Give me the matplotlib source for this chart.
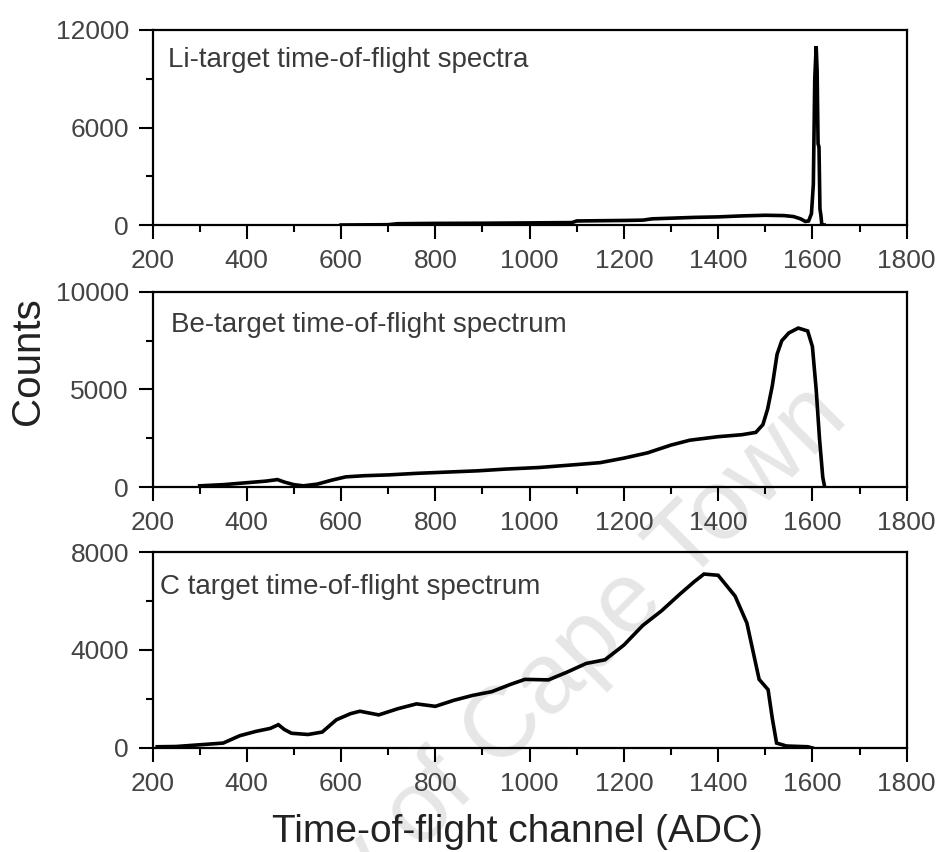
import numpy as np
import matplotlib
matplotlib.use('Agg')
import matplotlib.pyplot as plt
from matplotlib.ticker import MultipleLocator


# Li target spectrum (channel, counts)
li_x = [600, 700, 720, 800, 900, 1000, 1090, 1100, 1200, 1240, 1260, 1300, 1350,
        1400, 1450, 1500, 1540, 1560, 1575, 1585, 1592, 1598, 1602, 1605, 1608,
        1610, 1612, 1614, 1616, 1618, 1620, 1625]
li_y = [0, 20, 80, 100, 110, 130, 150, 250, 280, 300, 380, 420, 470,
        500, 560, 600, 580, 520, 380, 220, 250, 700, 2500, 9000, 11000,
        9500, 5000, 4800, 1000, 600, 0, 0]

# Be target spectrum
be_x = [300, 350, 400, 440, 465, 480, 500, 520, 550, 580, 610, 650, 700, 760,
        820, 890, 950, 1020, 1100, 1150, 1200, 1250, 1300, 1340, 1400, 1450,
        1480, 1495, 1505, 1515, 1525, 1535, 1550, 1570, 1590, 1600, 1608, 1615,
        1622, 1626]
be_y = [60, 120, 220, 300, 380, 250, 120, 60, 150, 350, 520, 580, 620, 700,
        760, 830, 920, 1000, 1150, 1250, 1480, 1750, 2150, 2400, 2580, 2680,
        2800, 3200, 4000, 5200, 6800, 7500, 7900, 8150, 8000, 7200, 5000, 2500,
        500, 0]

# C target spectrum
c_x = [210, 250, 300, 350, 385, 420, 450, 467, 480, 495, 530, 560, 590, 620,
       640, 680, 720, 760, 800, 840, 880, 920, 960, 990, 1040, 1080, 1120,
       1160, 1200, 1240, 1280, 1320, 1350, 1370, 1400, 1436, 1461, 1487, 1506,
       1515, 1524, 1545, 1590, 1600]
c_y = [50, 60, 130, 200, 500, 680, 800, 950, 750, 600, 550, 650, 1150, 1400,
       1500, 1350, 1600, 1800, 1700, 1950, 2150, 2300, 2600, 2800, 2780, 3100,
       3450, 3600, 4200, 5000, 5600, 6300, 6800, 7100, 7050, 6200, 5100, 2800,
       2380, 1200, 200, 80, 50, 0]

labels = ['Li-target time-of-flight spectra',
          'Be-target time-of-flight spectrum',
          'C target time-of-flight spectrum']
ymax = [12000, 10000, 8000]

plt.rcParams['font.family'] = ['Liberation Sans', 'DejaVu Sans']

fig = plt.figure(figsize=(9.38, 8.52), dpi=100)

# watermark behind everything
fig.text(850 / 938, 1 - 420 / 852, 'University of Cape Town', fontsize=72,
         color='#e6e6e6', rotation=45, rotation_mode='anchor',
         ha='right', va='baseline', zorder=-1)

boxes = [[0.1626, 0.7359, 0.804, 0.2289],
         [0.1626, 0.4284, 0.804, 0.2289],
         [0.1626, 0.1221, 0.804, 0.2300]]
text_y = [0.915, 0.895, 0.89]
text_x = [0.02, 0.024, 0.01]
series = [(li_x, li_y), (be_x, be_y), (c_x, c_y)]

for i in range(3):
    ax = fig.add_axes(boxes[i])
    ax.set_facecolor('none')
    xs, ys = series[i]
    ax.plot(xs, ys, color='black', lw=2.6, solid_joinstyle='miter')

    ax.set_xlim(200, 1800)
    ax.set_ylim(0, ymax[i])
    ax.set_xticks(np.arange(200, 1801, 200))
    ax.xaxis.set_minor_locator(MultipleLocator(100))
    ax.set_yticks([0, ymax[i] / 2, ymax[i]])
    ax.set_yticklabels(['0', str(ymax[i] // 2), str(ymax[i])])
    ax.yaxis.set_minor_locator(MultipleLocator(ymax[i] / 4))

    ax.tick_params(which='major', direction='out', length=10, width=1.5,
                   pad=7, labelsize=19, labelcolor='#444444')
    ax.tick_params(which='minor', direction='out', length=5, width=1.5)
    ax.tick_params(top=False, right=False, which='both')
    for s in ax.spines.values():
        s.set_linewidth(1.6)

    ax.text(text_x[i], text_y[i], labels[i], transform=ax.transAxes,
            fontsize=20, color='#3a3a3a', ha='left', va='top')

fig.text(28 / 938, 1 - 361 / 852, 'Counts', fontsize=29, rotation=90,
         ha='center', va='center', color='#222222')
fig.text(517 / 938, 1 - 842 / 852, 'Time-of-flight channel (ADC)', fontsize=28,
         ha='center', va='baseline', color='#222222')

plt.savefig('out.png', dpi=100)
